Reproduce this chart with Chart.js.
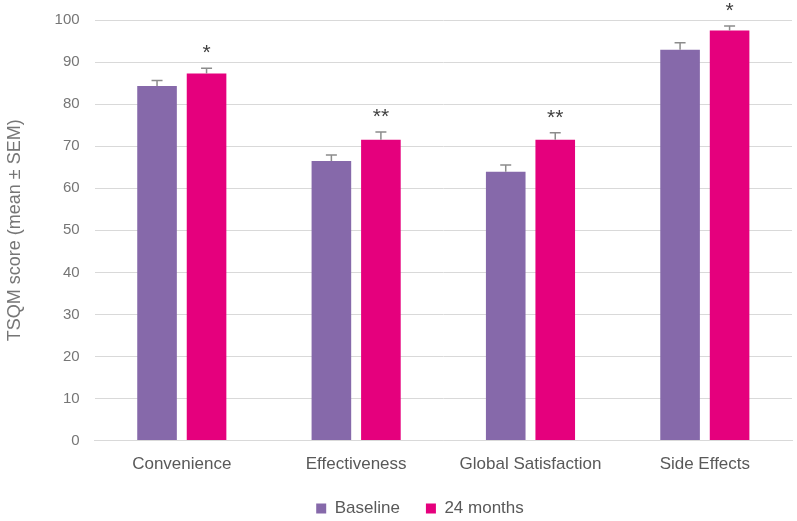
<!DOCTYPE html>
<html>
<head>
<meta charset="utf-8">
<script src="https://cdn.jsdelivr.net/npm/chart.js@4/dist/chart.umd.min.js"></script>
<style>
html,body{margin:0;padding:0;background:#fff;}
#wrap{width:797px;height:521px;}
</style>
</head>
<body>
<div id="wrap"><canvas id="c" width="797" height="521"></canvas></div>
<script>
const categories = ["Convenience", "Effectiveness", "Global Satisfaction", "Side Effects"];
const baseline = [84.3, 66.5, 63.9, 92.9];
const baselineSem = [1.3, 1.4, 1.6, 1.7];
const months24 = [87.3, 71.5, 71.5, 97.5];
const months24Sem = [1.2, 1.9, 1.7, 1.1];
const significance = ["*", "**", "**", "*"];
const yTicks = [0, 10, 20, 30, 40, 50, 60, 70, 80, 90, 100];
const seriesNames = ["Baseline", "24 months"];

const FONT = '"Liberation Sans", Arial, sans-serif';

const errorBarPlugin = {
  id: 'errorBars',
  afterLayout(chart) {
    if (chart.legend) { chart.legend.left += 22; chart.legend.right += 22; }
  },
  afterDatasetsDraw(chart) {
    const ctx = chart.ctx;
    const y = chart.scales.y;
    const sems = [baselineSem, months24Sem];
    ctx.save();
    ctx.strokeStyle = '#8c8c8c';
    ctx.lineWidth = 1.5;
    chart.data.datasets.forEach((ds, di) => {
      const meta = chart.getDatasetMeta(di);
      meta.data.forEach((bar, i) => {
        const top = y.getPixelForValue(ds.data[i] + sems[di][i]);
        const yb = y.getPixelForValue(ds.data[i]);
        ctx.beginPath();
        ctx.moveTo(bar.x, yb);
        ctx.lineTo(bar.x, top);
        ctx.moveTo(bar.x - 5.5, top);
        ctx.lineTo(bar.x + 5.5, top);
        ctx.stroke();
        if (di === 1) {
          ctx.fillStyle = '#404040';
          ctx.font = '21px ' + FONT;
          ctx.textAlign = 'center';
          ctx.textBaseline = 'alphabetic';
          ctx.fillText(significance[i], bar.x, top - 9);
        }
      });
    });
    ctx.restore();
  }
};

new Chart(document.getElementById('c'), {
  type: 'bar',
  data: {
    labels: categories,
    datasets: [
      { label: seriesNames[0], data: baseline, backgroundColor: '#8669AA', categoryPercentage: 0.568, barPercentage: 0.8 },
      { label: seriesNames[1], data: months24, backgroundColor: '#E5007D', categoryPercentage: 0.568, barPercentage: 0.8 }
    ]
  },
  options: {
    responsive: false,
    animation: false,
    layout: { padding: { top: 0, right: 5, left: 4, bottom: -6 } },
    plugins: {
      legend: {
        position: 'bottom',
        labels: { color: '#595959', font: { family: FONT, size: 17 }, boxWidth: 10, boxHeight: 10, padding: 26 }
      },
      tooltip: { enabled: false }
    },
    scales: {
      x: {
        grid: { display: false, drawTicks: false },
        border: { display: true, color: '#d9d9d9', width: 1 },
        ticks: { color: '#595959', font: { family: FONT, size: 17 }, padding: 14 },
        afterFit(axis) { axis.height -= 15; }
      },
      y: {
        min: 0, max: 100,
        afterBuildTicks(axis) { axis.ticks = yTicks.map(v => ({ value: v })); },
        afterFit(axis) { axis.paddingTop = 20; axis.paddingBottom = 0; },
        grid: { color: '#d9d9d9', drawTicks: false },
        border: { display: false },
        ticks: { color: '#767676', font: { family: FONT, size: 15 }, padding: 15 },
        title: { display: true, text: 'TSQM score (mean ± SEM)', color: '#767676', font: { family: FONT, size: 18 }, padding: { top: 0, bottom: 14 } }
      }
    }
  },
  plugins: [errorBarPlugin]
});
</script>
</body>
</html>
